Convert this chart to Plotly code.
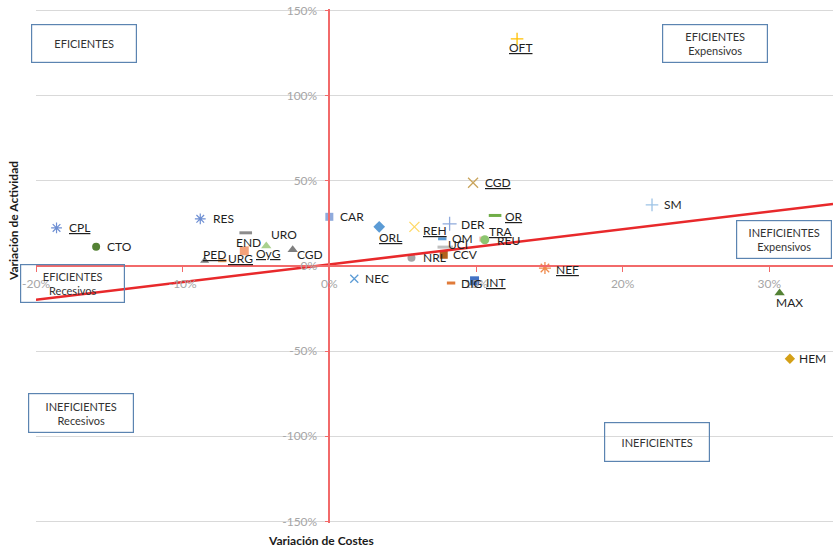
import plotly.graph_objects as go

# --- data: cost variation (x) vs activity variation (y) per service ---
NAMES = ["CPL", "CTO", "RES", "END", "PED", "URG", "OyG", "URO", "CGD", "CAR",
         "NEC", "ORL", "REH", "NRL", "CGD", "DER", "OM", "UCI", "CCV", "OR",
         "TRA", "REU", "DIG", "INT", "NEF", "OFT", "SM", "MAX", "HEM"]
COST_VAR = [-0.186, -0.159, -0.088, -0.057, -0.085, -0.073, -0.058, -0.043, -0.025, 0.000,
            0.017, 0.034, 0.058, 0.056, 0.098, 0.082, 0.077, 0.079, 0.078, 0.113,
            0.104, 0.106, 0.083, 0.099, 0.147, 0.128, 0.220, 0.307, 0.314]
ACTIVITY_VAR = [0.224, 0.113, 0.277, 0.195, 0.031, 0.031, 0.089, 0.118, 0.095, 0.289,
                -0.075, 0.230, 0.230, 0.048, 0.489, 0.248, 0.160, 0.111, 0.066, 0.297,
                0.158, 0.154, -0.100, -0.087, -0.012, 1.334, 0.359, -0.159, -0.545]
UNDERLINED = ["CPL", "PED", "URG", "OyG", "ORL", "REH", "CGD*", "OR", "TRA", "INT", "NEF", "OFT"]

# linear trend of activity vs cost
TREND_SLOPE = 1.036
TREND_INTERCEPT = 0.009

X_TICKS = [-0.2, -0.1, 0.0, 0.1, 0.2, 0.3]
X_TICK_LABELS = ["-20%", "-10%", "0%", "10%", "20%", "30%"]
Y_TICKS = [-1.5, -1.0, -0.5, 0.0, 0.5, 1.0, 1.5]
Y_TICK_LABELS = ["-150%", "-100%", "-50%", "0%", "50%", "100%", "150%"]

QUADRANTS = ["EFICIENTES", "EFICIENTES<br>Expensivos", "INEFICIENTES<br>Expensivos",
             "EFICIENTES<br>Recesivos", "INEFICIENTES<br>Recesivos", "INEFICIENTES"]

# --- styling ---
X_RANGE = [-0.2, 0.3434]
Y_RANGE = [-1.51, 1.51]
W, H = 833, 547
ML, MR, MT, MB = 36, 0, 9, 24
FONT = "Lato, 'Open Sans', sans-serif"
AXIS_RED = "#F26A6A"

# (symbol, colour, size, line width) per point, same order as NAMES
MARKERS = [
    ("asterisk-open", "#6E8FD3", 9, 1.2),
    ("circle", "#548235", 8, 0),
    ("asterisk-open", "#6E8FD3", 9, 1.2),
    ("line-ew-open", "#8C8C8C", 9, 3),
    ("triangle-up", "#7F7F7F", 8, 0),
    ("line-ew-open", "#F0A860", 6, 3),
    ("square", "#F4A27A", 9, 0),
    ("triangle-up", "#A9D18E", 9, 0),
    ("triangle-up", "#7F7F7F", 9, 0),
    ("square", "#8FAADC", 8, 0),
    ("x-thin-open", "#5B9BD5", 8, 1.3),
    ("diamond", "#5B9BD5", 9, 0),
    ("x-thin-open", "#FFD966", 10, 1.3),
    ("circle", "#A5A5A5", 8, 0),
    ("x-thin-open", "#C9A45C", 10, 1.3),
    ("cross-thin-open", "#8FAADC", 10, 1.3),
    ("line-ew-open", "#5B9BD5", 6, 3),
    ("line-ew-open", "#BFBFBF", 11, 3),
    ("square", "#B45F1C", 8, 0),
    ("line-ew-open", "#70AD47", 9, 3),
    ("square", "#F4B6A8", 5, 0),
    ("circle", "#8CC56F", 9, 0),
    ("line-ew-open", "#E07B39", 6, 3),
    ("square", "#4472C4", 9, 0),
    ("asterisk-open", "#F08A4B", 10, 1.3),
    ("cross-thin-open", "#FFC000", 9, 1.3),
    ("cross-thin-open", "#9DC3E6", 9, 1.3),
    ("triangle-up", "#548235", 9, 0),
    ("diamond", "#D4A017", 8, 0),
]

# label offset from its marker in pixels (right, down)
LABEL_OFFSETS = [
    (23, 0), (23, 0), (23, 0), (3, 10), (10, -6), (18, -2), (24, 3), (18, -11), (17, 5), (23, 0),
    (23, 0), (11, 11), (21, 4), (23, 0), (25, 0), (23, 1), (20, 0), (13, -3), (22, 0), (19, 1),
    (19, -8), (24, 1), (20, 0), (21, 2), (23, 1), (3, 9), (21, 0), (10, 9), (23, 0),
]

# quadrant boxes: centre and size in pixels
QUADRANT_BOXES = [
    (84, 43.5, 104, 37), (715, 43.5, 104, 37), (784, 239.5, 94, 37),
    (72.5, 283.5, 103, 37), (81, 413, 104, 38), (657, 442, 104, 38),
]

PW = W - ML - MR
PH = H - MT - MB


def px_to_paper(px, py):
    return (px - ML) / PW, (H - MB - py) / PH


fig = go.Figure()

for i, name in enumerate(NAMES):
    sym, col, size, lw = MARKERS[i]
    fig.add_trace(go.Scatter(
        x=[COST_VAR[i]], y=[ACTIVITY_VAR[i]], mode="markers", name=name,
        marker=dict(symbol=sym, color=col, size=size,
                    line=dict(color=col, width=lw)),
        hoverinfo="text", text=[name],
    ))

# trend line across the whole x range
fig.add_trace(go.Scatter(
    x=X_RANGE,
    y=[TREND_INTERCEPT + TREND_SLOPE * x for x in X_RANGE],
    mode="lines", line=dict(color="#E8292B", width=2.6), hoverinfo="skip",
))

annotations = []
for i, name in enumerate(NAMES):
    key = name + "*" if (name == "CGD" and ACTIVITY_VAR[i] > 0.3) else name
    label = f"<u>{name}</u>" if key in UNDERLINED else name
    dx, dy = LABEL_OFFSETS[i]
    annotations.append(dict(
        x=COST_VAR[i], y=ACTIVITY_VAR[i], xref="x", yref="y", text=label,
        showarrow=False, xanchor="center", yanchor="middle",
        xshift=dx, yshift=-dy, font=dict(family=FONT, size=12, color="#1F1F1F"),
    ))

for text, (cx, cy, bw, bh) in zip(QUADRANTS, QUADRANT_BOXES):
    px, py = px_to_paper(cx, cy)
    annotations.append(dict(
        x=px, y=py, xref="paper", yref="paper", text=text, showarrow=False,
        xanchor="center", yanchor="middle", width=bw, height=bh, align="center",
        valign="middle", bordercolor="#5B84B1", borderwidth=1.2, borderpad=0,
        font=dict(family=FONT, size=11, color="#333333"),
    ))

# axis titles
tx, ty = px_to_paper(321, 540)
annotations.append(dict(x=tx, y=ty, xref="paper", yref="paper", text="<b>Variación de Costes</b>",
                        showarrow=False, xanchor="center", yanchor="middle",
                        font=dict(family=FONT, size=12, color="#1A1A1A")))
tx, ty = px_to_paper(13, 221)
annotations.append(dict(x=tx, y=ty, xref="paper", yref="paper", text="<b>Variación de Actividad</b>",
                        showarrow=False, xanchor="center", yanchor="middle", textangle=-90,
                        font=dict(family=FONT, size=12, color="#1A1A1A")))

x_axis_pos = (0 - Y_RANGE[0]) / (Y_RANGE[1] - Y_RANGE[0])
y_axis_pos = (0 - X_RANGE[0]) / (X_RANGE[1] - X_RANGE[0])

fig.update_layout(
    width=W, height=H,
    margin=dict(l=ML, r=MR, t=MT, b=MB),
    paper_bgcolor="white", plot_bgcolor="white",
    showlegend=False,
    xaxis=dict(range=X_RANGE, anchor="free", position=x_axis_pos,
               showline=True, linecolor=AXIS_RED, linewidth=1.5,
               ticks="outside", ticklen=5, tickcolor=AXIS_RED, tickwidth=1.2,
               tickvals=X_TICKS, ticktext=X_TICK_LABELS, ticklabelstandoff=2,
               tickfont=dict(family=FONT, size=12, color="#A6A6A6"),
               showgrid=False, zeroline=False, fixedrange=True),
    yaxis=dict(range=Y_RANGE, anchor="free", position=y_axis_pos,
               showline=True, linecolor=AXIS_RED, linewidth=1.5,
               ticks="outside", ticklen=4, tickcolor=AXIS_RED, tickwidth=1.2,
               tickvals=Y_TICKS, ticktext=Y_TICK_LABELS, ticklabelstandoff=5,
               tickfont=dict(family=FONT, size=12, color="#A6A6A6"),
               showgrid=True, gridcolor="#D9D9D9", gridwidth=1.3,
               zeroline=False, fixedrange=True),
    annotations=annotations,
)

fig.write_html("out.html")
